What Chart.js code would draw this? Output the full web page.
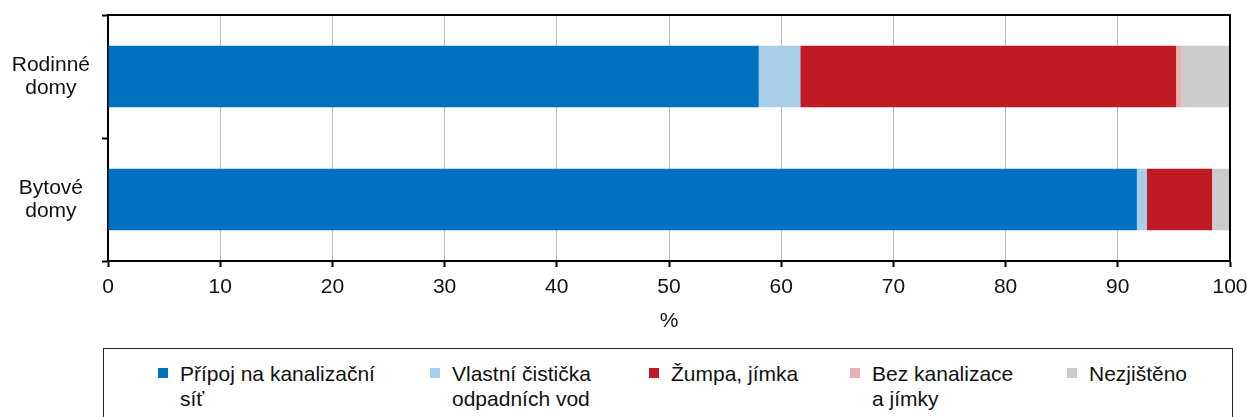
<!DOCTYPE html>
<html>
<head>
<meta charset="utf-8">
<script src="https://cdn.jsdelivr.net/npm/chart.js@4"></script>
<style>
  html, body { margin: 0; padding: 0; background: #fff; overflow: hidden; }
  body { width: 1247px; height: 417px; position: relative; font-family: "Liberation Sans", Arial, sans-serif; }
  #c { position: absolute; left: 0; top: 0; }
  #legend { position: absolute; left: 103px; top: 348px; width: 1128px; height: 90px; border: 1px solid #222; }
  .item { position: absolute; top: 12px; font-size: 21px; line-height: 25px; color: #111; }
  .mk { position: absolute; top: 7px; width: 10px; height: 10px; }
  .tx { position: absolute; left: 22px; top: 0; white-space: nowrap; }
</style>
</head>
<body>
<canvas id="c" width="1247" height="345"></canvas>
<div id="legend"></div>
<script>
// ---- data ----
const categories = [["Rodinné", "domy"], ["Bytové", "domy"]];
const seriesNames = [
  ["Přípoj na kanalizační", "síť"],
  ["Vlastní čistička", "odpadních vod"],
  ["Žumpa, jímka"],
  ["Bez kanalizace", "a jímky"],
  ["Nezjištěno"]
];
const pripoj     = [58.0, 91.7];
const cisticka   = [3.7, 0.9];
const zumpa      = [33.5, 5.8];
const bezKanal   = [0.5, 0.0];
const nezjisteno = [4.3, 1.6];
const xTicks = [0, 10, 20, 30, 40, 50, 60, 70, 80, 90, 100];
const axisTitle = "%";

// ---- styles ----
const colors = ["#0070C0", "#A8CFE9", "#C01B24", "#E9B0B6", "#CCCCCC"];
const legendLeft = [54, 326, 545, 746, 963];
const FONT = "'Liberation Sans', Arial, sans-serif";

const seriesValues = [pripoj, cisticka, zumpa, bezKanal, nezjisteno];

const frame = {
  id: 'frame',
  afterDraw(chart) {
    const { ctx, chartArea: a } = chart;
    ctx.save();
    ctx.strokeStyle = '#000';
    ctx.lineWidth = 2;
    ctx.beginPath();
    ctx.moveTo(a.left, a.top);
    ctx.lineTo(a.right, a.top);
    ctx.lineTo(a.right, a.bottom);
    ctx.stroke();
    ctx.restore();
  }
};

new Chart(document.getElementById('c'), {
  type: 'bar',
  data: {
    labels: categories,
    datasets: seriesValues.map((v, i) => ({
      label: seriesNames[i].join(' '),
      data: v,
      backgroundColor: colors[i],
      borderWidth: 0,
      barPercentage: 0.5,
      categoryPercentage: 1.0
    }))
  },
  options: {
    indexAxis: 'y',
    responsive: false,
    devicePixelRatio: 1,
    animation: false,
    layout: { padding: { top: 15, right: 17, left: 0, bottom: 0 } },
    plugins: { legend: { display: false }, tooltip: { enabled: false } },
    scales: {
      x: {
        stacked: true,
        min: 0, max: 100,
        afterBuildTicks(scale) { scale.ticks = xTicks.map(v => ({ value: v })); },
        afterFit(scale) { scale.height = 84; scale.paddingLeft = 0; scale.paddingRight = 0; },
        ticks: { color: '#111', font: { family: FONT, size: 21 }, padding: 8, maxRotation: 0 },
        grid: {
          color: '#BFBFBF', lineWidth: 1,
          tickColor: '#000', tickWidth: 2, tickLength: 6
        },
        border: { color: '#000', width: 2 },
        title: { display: true, text: axisTitle, color: '#111', font: { family: FONT, size: 21 }, padding: { top: 0, bottom: 11 } }
      },
      y: {
        stacked: true,
        afterFit(scale) { scale.width = 108; scale.paddingTop = 0; scale.paddingBottom = 0; },
        ticks: { color: '#111', font: { family: FONT, size: 21, lineHeight: 1.1 }, padding: 12, crossAlign: 'center' },
        grid: { offset: true, drawOnChartArea: false, tickColor: '#000', tickWidth: 2, tickLength: 6 },
        border: { color: '#000', width: 2 }
      }
    }
  },
  plugins: [frame]
});

// HTML legend built from the series names
const lg = document.getElementById('legend');
seriesNames.forEach((lines, i) => {
  const it = document.createElement('div');
  it.className = 'item';
  it.style.left = legendLeft[i] + 'px';
  const mk = document.createElement('div');
  mk.className = 'mk';
  mk.style.background = colors[i];
  const tx = document.createElement('div');
  tx.className = 'tx';
  tx.innerHTML = lines.map(l => l.replace(/&/g, '&amp;')).join('<br>');
  it.appendChild(mk); it.appendChild(tx);
  lg.appendChild(it);
});
</script>
</body>
</html>
